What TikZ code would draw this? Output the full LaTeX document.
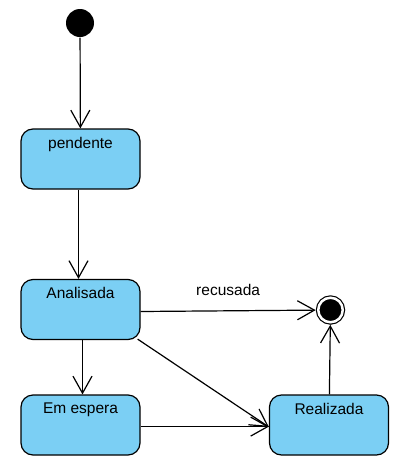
\documentclass[tikz,border=0pt]{standalone}
\usepackage{fontspec}
\setmainfont{Liberation Sans}
\usepackage{tikz}
\usetikzlibrary{arrows.meta}
\definecolor{estadoazul}{HTML}{7BCFF4}

\begin{document}
\begin{tikzpicture}[x=1pt, y=-1pt, line width=1.2pt, font=\fontsize{15.5}{18}\selectfont,
    estado/.style={rectangle, rounded corners=12pt, draw, fill=estadoazul,
        minimum width=119pt, minimum height=60pt, inner sep=0pt},
    seta/.style={-{Straight Barb[length=17pt, width=19pt]}}]

            \useasboundingbox (0, 0) rectangle (408, 472);

            %initial and final states
            \node[circle, fill=black, minimum size=28pt, inner sep=0pt] (ini) at (80, 23) {};
            \node[circle, draw, fill=black, double=white, double distance=2.5pt,
                minimum size=24.5pt, inner sep=0pt, outer sep=2.6pt] (fim) at (330.5, 310) {};

            %states
            \node[estado, label={[inner sep=0pt, anchor=north, yshift=-8pt]north:pendente}] (pend) at (80.5, 159) {};
            \node[estado, label={[inner sep=0pt, anchor=north, yshift=-8pt]north:Analisada}] (anal) at (80.5, 309.5) {};
            \node[estado, label={[inner sep=0pt, anchor=north, yshift=-8pt]north:Em espera}] (esp) at (80.5, 425) {};
            \node[estado, label={[inner sep=0pt, anchor=north, yshift=-8pt]north:Realizada}] (real) at (329, 425) {};

            %transitions
            \draw[seta] (ini) -- (pend);
            \draw[seta] ([xshift=-2pt]pend.south) -- ([xshift=-2pt]anal.north);
            \draw[seta] ([xshift=2pt]anal.south) -- ([xshift=2pt]esp.north);
            \draw[seta] ([yshift=-2pt]anal.east) -- (fim) node[midway, above=11pt] {recusada};
            \draw[seta] ([xshift=-3pt, yshift=1pt]anal.south east) -- ([yshift=-2pt]real.west);
            \draw[seta] ([yshift=-1.6pt]esp.east) -- ([yshift=-1.6pt]real.west);
            \draw[seta] (real) -- (fim);
        \end{tikzpicture}
\end{document}
